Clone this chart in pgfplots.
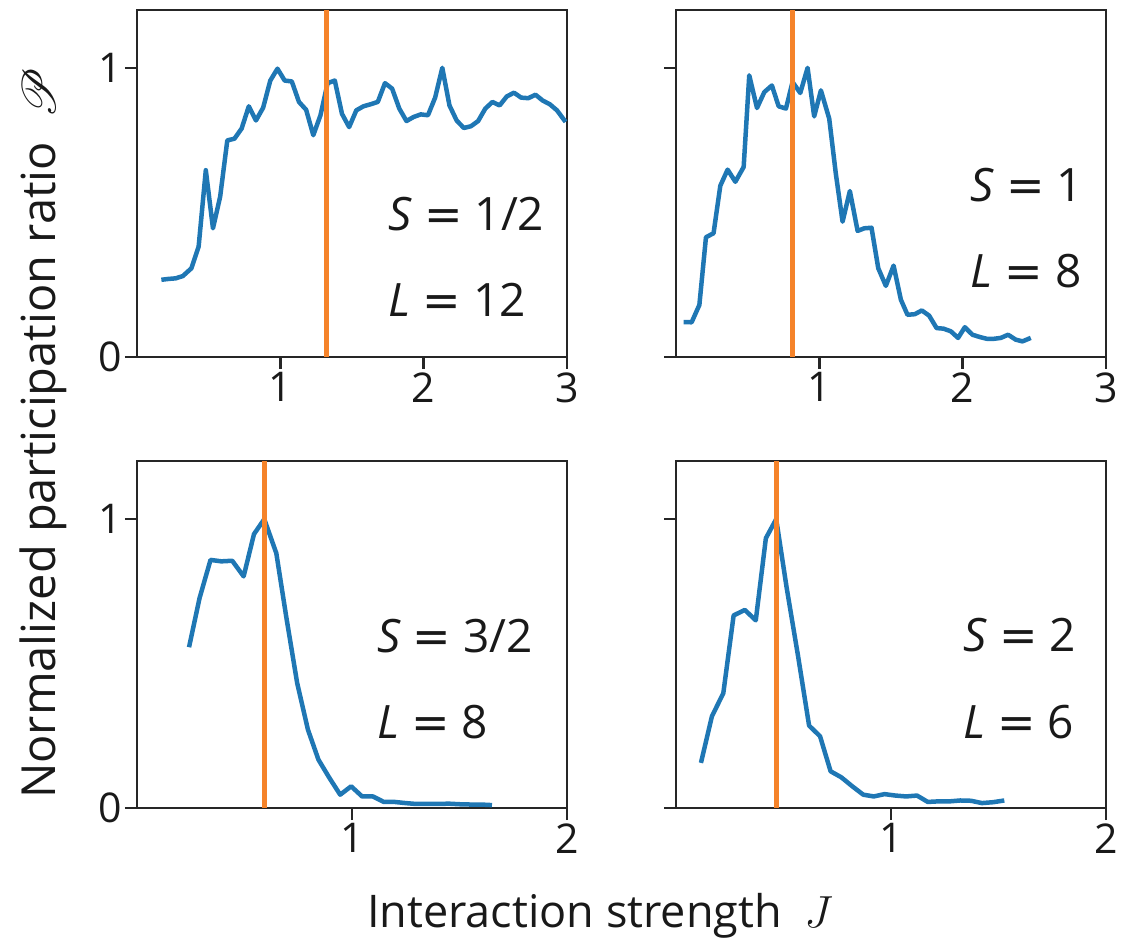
\RequirePackage{fix-cm}
\documentclass[border=0pt]{standalone}
\usepackage{pgfplots}
\pgfplotsset{compat=1.18}
\usepackage{pgfplotstable}
\usepackage{mathrsfs}
\DeclareFontFamily{U}{rsfs}{\skewchar\font127 }
\DeclareFontShape{U}{rsfs}{m}{n}{<-> rsfs10}{}
\usepackage{fontspec}
\setmainfont{Open Sans}
\newfontfamily\dvsans{DejaVu Sans}

\definecolor{tabblue}{HTML}{1F77B4}
\definecolor{taborange}{HTML}{F5832A}
\definecolor{spine}{HTML}{262626}

% Normalized participation ratio vs interaction strength J
\pgfplotstableread{
J P
0.17 0.267
0.22 0.270
0.27 0.272
0.32 0.280
0.38 0.307
0.43 0.382
0.48 0.646
0.53 0.445
0.58 0.554
0.63 0.749
0.68 0.755
0.73 0.790
0.78 0.867
0.83 0.818
0.88 0.862
0.93 0.956
0.98 0.997
1.03 0.956
1.08 0.953
1.13 0.882
1.18 0.855
1.23 0.767
1.28 0.836
1.33 0.947
1.38 0.956
1.43 0.841
1.48 0.795
1.53 0.853
1.58 0.867
1.63 0.874
1.68 0.882
1.73 0.947
1.78 0.928
1.83 0.859
1.88 0.816
1.93 0.830
1.98 0.839
2.03 0.836
2.08 0.897
2.13 1.000
2.18 0.870
2.23 0.818
2.28 0.792
2.33 0.798
2.38 0.816
2.43 0.859
2.48 0.882
2.53 0.870
2.58 0.901
2.63 0.914
2.68 0.897
2.73 0.895
2.78 0.907
2.83 0.887
2.88 0.874
2.93 0.853
2.99 0.813
}\halfspin

\pgfplotstableread{
J P
0.053 0.121
0.109 0.120
0.163 0.180
0.209 0.414
0.262 0.428
0.309 0.592
0.360 0.648
0.414 0.606
0.472 0.657
0.511 0.974
0.565 0.861
0.616 0.916
0.669 0.939
0.716 0.867
0.767 0.859
0.813 0.951
0.867 0.913
0.918 1.000
0.964 0.832
1.011 0.922
1.069 0.824
1.115 0.634
1.162 0.468
1.213 0.574
1.267 0.436
1.313 0.445
1.364 0.447
1.411 0.307
1.464 0.246
1.518 0.316
1.569 0.198
1.615 0.146
1.666 0.148
1.715 0.161
1.766 0.143
1.818 0.100
1.866 0.098
1.917 0.089
1.968 0.066
2.015 0.103
2.068 0.077
2.120 0.069
2.168 0.063
2.219 0.063
2.266 0.066
2.317 0.077
2.370 0.060
2.417 0.054
2.475 0.066
}\spinone

\pgfplotstableread{
J P
0.242 0.556
0.291 0.726
0.342 0.858
0.392 0.853
0.443 0.855
0.496 0.801
0.544 0.947
0.592 0.999
0.648 0.881
0.694 0.662
0.745 0.432
0.795 0.271
0.844 0.167
0.895 0.104
0.945 0.046
0.996 0.075
1.047 0.040
1.097 0.040
1.148 0.021
1.198 0.021
1.249 0.017
1.298 0.014
1.349 0.014
1.399 0.014
1.450 0.015
1.500 0.013
1.551 0.012
1.600 0.012
1.651 0.010
}\spinthreehalf

\pgfplotstableread{
J P
0.116 0.156
0.167 0.317
0.220 0.397
0.268 0.666
0.320 0.685
0.371 0.649
0.418 0.933
0.466 0.999
0.515 0.760
0.568 0.524
0.619 0.285
0.670 0.248
0.719 0.127
0.769 0.106
0.820 0.075
0.871 0.046
0.920 0.040
0.970 0.048
1.021 0.043
1.070 0.040
1.121 0.043
1.171 0.021
1.222 0.023
1.273 0.023
1.322 0.026
1.372 0.025
1.423 0.017
1.474 0.020
1.527 0.026
}\spintwo

\pgfplotsset{
  panel/.style={
    scale only axis,
    width=430pt, height=347pt,
    ymin=0, ymax=1.2,
    ytick={0,1},
    xtick pos=bottom, ytick pos=left,
    tick align=outside,
    major tick length=12pt,
    axis line style={spine, line width=2.5pt},
    every tick/.style={spine, line width=2.5pt},
    tick label style={font=\fontsize{41}{41}\selectfont, text=black!90},
    /pgf/number format/assume math mode=true,
    anchor=south west,
    clip=true,
  },
}
\tikzset{
  curve/.style={tabblue, line width=4.5pt, line join=round},
  vline/.style={taborange, line width=5pt},
  tag/.style={font=\fontsize{46}{46}\selectfont, text=black!90, anchor=base west},
}
% parameter label: italic symbol, wide equals sign, value
\newcommand{\param}[2]{\textit{#1} {\dvsans=} #2}

\begin{document}
\begin{tikzpicture}
\useasboundingbox (0,0) rectangle (1123pt,945pt);

% S = 1/2
\begin{axis}[panel, at={(137pt,588pt)}, xmin=0, xmax=3, xtick={1,2,3}]
  \addplot[curve] table[x=J, y=P] {\halfspin};
  \addplot[vline] coordinates {(1.322,0) (1.322,1.2)};
  \node[tag] at (axis cs:1.73,0.439) {\param{S}{1/2}};
  \node[tag] at (axis cs:1.73,0.140) {\param{L}{12}};
\end{axis}

% S = 1
\begin{axis}[panel, at={(676pt,588pt)}, xmin=0, xmax=3, xtick={1,2,3}, yticklabels={}]
  \addplot[curve] table[x=J, y=P] {\spinone};
  \addplot[vline] coordinates {(0.813,0) (0.813,1.2)};
  \node[tag] at (axis cs:2.03,0.539) {\param{S}{1}};
  \node[tag] at (axis cs:2.03,0.241) {\param{L}{8}};
\end{axis}

% S = 3/2
\begin{axis}[panel, at={(137pt,137pt)}, xmin=0, xmax=2, xtick={1,2}]
  \addplot[curve] table[x=J, y=P] {\spinthreehalf};
  \addplot[vline] coordinates {(0.595,0) (0.595,1.2)};
  \node[tag] at (axis cs:1.10,0.539) {\param{S}{3/2}};
  \node[tag] at (axis cs:1.10,0.242) {\param{L}{8}};
\end{axis}

% S = 2
\begin{axis}[panel, at={(676pt,137pt)}, xmin=0, xmax=2, xtick={1,2}, yticklabels={}]
  \addplot[curve] table[x=J, y=P] {\spintwo};
  \addplot[vline] coordinates {(0.467,0) (0.467,1.2)};
  \node[tag] at (axis cs:1.32,0.541) {\param{S}{2}};
  \node[tag] at (axis cs:1.32,0.242) {\param{L}{6}};
\end{axis}

% shared axis labels
\node[font=\fontsize{47}{47}\selectfont, text=black!90, rotate=90, anchor=base] at (55pt,512pt)
  {Normalized participation ratio\enspace$\mathscr{P}$};
\node[font=\fontsize{45}{45}\selectfont, text=black!90, anchor=base] at (600pt,18pt)
  {Interaction strength\enspace$J$};
\end{tikzpicture}
\end{document}
